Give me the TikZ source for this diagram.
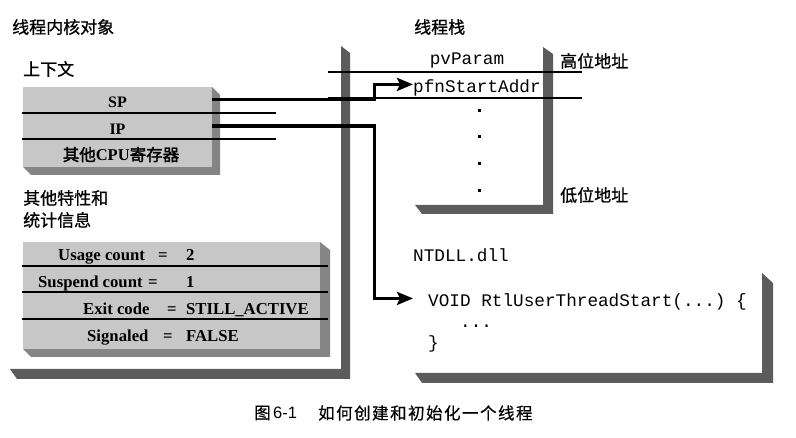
\documentclass[tikz,border=0pt]{standalone}
\usepackage{fontspec}
\setmainfont{Liberation Serif}
\setmonofont{Liberation Mono}
\newfontfamily\cjk{Noto Sans CJK SC}[AutoFakeBold=2]
\newfontfamily\cjkm{Noto Sans CJK SC}[FakeBold=0.8]
\newfontfamily\cjkcap{Noto Sans CJK SC}[LetterSpace=9,FakeBold=0.5]
\newfontfamily\capsans{Liberation Sans}
\usetikzlibrary{arrows.meta}
\begin{document}
\begin{tikzpicture}[x=1pt,y=-1pt,
  wall/.style={fill=black!64},
  face/.style={fill=black!22},
  side/.style={fill=black!48},
  rule/.style={line width=1.1pt},
  conn/.style={line width=3.2pt,-{Stealth[length=16pt,width=13pt,inset=3pt]}},
  cn/.style={font=\cjkm\fontsize{17}{17}\selectfont,inner sep=0pt},
  code/.style={font=\ttfamily\fontsize{17.7}{18}\selectfont,inner sep=0pt},
  tb/.style={font=\bfseries\fontsize{16.7}{17}\selectfont,inner sep=0pt},
  row/.style={font=\bfseries\fontsize{16}{16}\selectfont,inner sep=0pt,minimum width=189pt,minimum height=26pt}]
\useasboundingbox[fill=white] (0,0) rectangle (796,438);

% headings
\node[cn,anchor=west] (title1) at (12,27) {线程内核对象};
\node[cn,anchor=west] (title2) at (414,27) {线程栈};
\node[cn,anchor=west] (ctx) at (23,69) {上下文};
\node[cn,anchor=west] (other1) at (23,198) {其他特性和};
\node[cn,anchor=west] (other2) at (23,220) {统计信息};

% container walls
\fill[wall] (341,46) -- (350,53) -- (350,379) -- (17,379) -- (10,369) -- (341,369) -- cycle;
\fill[wall] (543,47) -- (553,54) -- (553,214) -- (422,214) -- (415,205) -- (543,205) -- cycle;
\fill[wall] (762,273) -- (773,283) -- (773,383) -- (422,383) -- (415,373) -- (762,373) -- cycle;

% context box
\fill[side] (212,87) -- (220,95) -- (220,175) -- (31,175) -- (23,167) -- (212,167) -- cycle;
\fill[face] (23,87) rectangle (212,167);
\draw[rule] (22,113) -- (276,113);
\draw[rule] (22,139) -- (276,139);
\node[row] (sp) at (117.5,102.5) {SP};
\node[row] (ip) at (117.5,129) {IP};
\node[font=\bfseries\fontsize{16.5}{17}\selectfont,inner sep=0pt] (cpu) at (121,154.5) {{\cjk\bfseries 其他}CPU{\cjk\bfseries 寄存器}};

% statistics box
\fill[side] (320,242) -- (330,250) -- (330,357) -- (31,357) -- (23,349) -- (320,349) -- cycle;
\fill[face] (23,242) rectangle (320,349);
\draw[rule] (22,266) -- (328,266);
\draw[rule] (22,292) -- (328,292);
\draw[rule] (22,319) -- (328,319);
\node[tb,anchor=base west] (l1) at (58,261) {Usage count};
\node[tb,anchor=base west] (e1) at (158,261) {=};
\node[tb,anchor=base west] (v1) at (186,261) {2};
\node[tb,anchor=base west] (l2) at (38,288) {Suspend count};
\node[tb,anchor=base west] (e2) at (148,288) {=};
\node[tb,anchor=base west] (v2) at (186,288) {1};
\node[tb,anchor=base west] (l3) at (83,315) {Exit code};
\node[tb,anchor=base west] (e3) at (167,315) {=};
\node[tb,anchor=base west] (v3) at (186,315) {STILL\_ACTIVE};
\node[tb,anchor=base west] (l4) at (87,342) {Signaled};
\node[tb,anchor=base west] (e4) at (163,342) {=};
\node[tb,anchor=base west] (v4) at (186,342) {FALSE};

% thread stack
\draw[rule] (328,72) -- (582,72);
\draw[rule] (328,98) -- (582,98);
\node[code,anchor=base] (pv) at (467,65) {pvParam};
\node[code,anchor=base west] (pfn) at (413,93) {pfnStartAddr};
\foreach \yy in {111,137,164,191} \fill (477.5,\yy-1.5) rectangle ++(3,3);
\node[cn,anchor=west] (hi) at (560,61) {高位地址};
\node[cn,anchor=west] (lo) at (560,195) {低位地址};

% NTDLL code
\node[code,anchor=base west] (ntdll) at (413,262) {NTDLL.dll};
\node[code,anchor=base west] (fn) at (428,307) {VOID RtlUserThreadStart(...) \{};
\node[code,anchor=base west] (body) at (460,328) {...};
\node[code,anchor=base west] (close) at (428,349) {\}};

% connectors
\draw[conn] ([yshift=3pt]sp.east) -- ++(162,0) |- ([yshift=4pt]pfn.west);
\draw[conn] ([yshift=3pt]ip.east) -- ++(162,0) |- ([xshift=-15pt,yshift=4pt]fn.west);

% caption
\node[font=\cjkcap\fontsize{16.5}{17}\selectfont,anchor=west,inner sep=0pt] (cap1) at (254,413) {图};
\node[font=\capsans\fontsize{16.5}{17}\selectfont,anchor=west,inner sep=0pt] (cap2) at (273,413) {6-1};
\node[font=\cjkcap\fontsize{16.5}{17}\selectfont,anchor=west,inner sep=0pt] (cap3) at (318,413) {如何创建和初始化一个线程};
\end{tikzpicture}
\end{document}
